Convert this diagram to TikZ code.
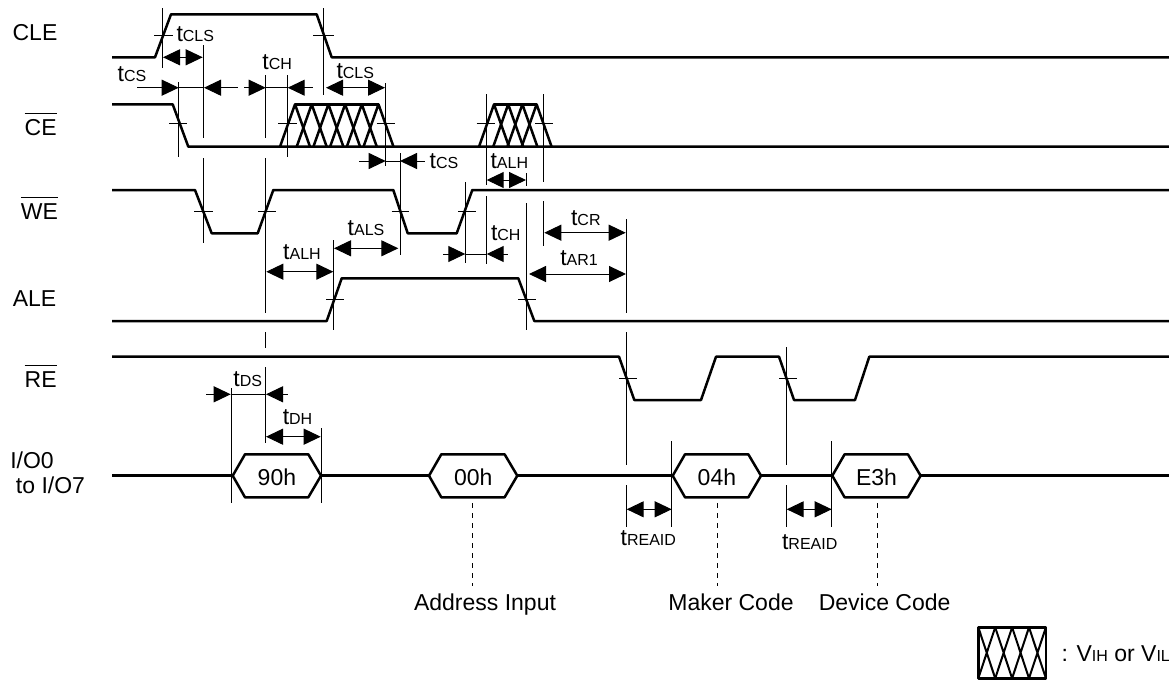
\documentclass[tikz,border=0pt]{standalone}
\usepackage{fontspec}
\setmainfont{Liberation Sans}
\usetikzlibrary{arrows.meta}
\tikzset{
    %Define standard arrow tip
    >={Triangle[length=17pt,width=16pt]},
    x=1pt,y=-1pt,
    % Define signal and guide lines
    sigline/.style={
           line width=2.5pt,
           line join=round},
    hatchline/.style={
           line width=2.5pt,
           line join=round},
    guideline/.style={
           line width=1pt},
    dimline/.style={
           line width=1pt},
    dashline/.style={
           line width=1pt,
           dash pattern=on 5pt off 5pt},
    % Define style for labels
    sigtext/.style={
           inner sep=0pt,
           anchor=base,
           font=\fontsize{23}{27}\selectfont}
}
\newcommand{\tlab}[2]{{\fontsize{23}{27}\selectfont #1}{\fontsize{16}{19}\selectfont #2}}
\newcommand{\sigbar}[1]{\leavevmode\vbox{\hrule height 1pt\kern 5pt\hbox{#1}}}

\begin{document}
\begin{tikzpicture}
\useasboundingbox (0,0) rectangle (1169,681);
% signal names
\node [sigtext] (cle) at (35,40.7) {CLE};
\node [sigtext] (ce) at (40.7,135) {\sigbar{CE}};
\node [sigtext] (we) at (39.5,219.3) {\sigbar{WE}};
\node [sigtext] (ale) at (34.5,306) {ALE};
\node [sigtext] (re) at (40.7,387.3) {\sigbar{RE}};
\node [sigtext] (ioa) at (32,468.3) {I/O0};
\node [sigtext] (iob) at (50.5,493.3) {to I/O7};
% waveforms
\draw [sigline] (112,57.3) -- (155,57.3) -- (171,14.3) -- (316.7,14.3) -- (331.7,57.3) -- (1169,57.3);
\draw [sigline] (112,104.3) -- (172.7,104.3) -- (188.3,146.7) -- (1169,146.7);
\draw [sigline] (112,190) -- (195,190) -- (211.7,233.3) -- (257.7,233.3) -- (273.3,190) -- (393.3,190)
    -- (407.7,233.3) -- (456.7,233.3) -- (472.3,190) -- (1169,190);
\draw [sigline] (112,321) -- (326.7,321) -- (341.7,278.3) -- (518.3,278.3) -- (534.3,321) -- (1169,321);
\draw [sigline] (112,356.7) -- (619,356.7) -- (634.3,400) -- (701,400) -- (716,356.7) -- (779,356.7)
    -- (794,400) -- (855,400) -- (869.3,356.7) -- (1169,356.7);
\draw [sigline] (112,475.7) -- (1169,475.7);
% don't care areas
\draw [hatchline] (295,104.3) -- (378.5,104.3);
\foreach \i in {0,...,5}
    \draw [hatchline] (280+\i*16.7,146.7) -- (295+\i*16.7,104.3) -- (310+\i*16.7,146.7);
\draw [hatchline] (494,104.3) -- (536.6,104.3);
\foreach \i in {0,...,3}
    \draw [hatchline] (479+\i*14.2,146.7) -- (494+\i*14.2,104.3) -- (509+\i*14.2,146.7);
% bus values
\foreach \name/\xa/\val in {vala/232.7/90h,valb/429/00h,valc/672.7/04h,vald/832.3/E3h} {
    \draw [sigline,fill=white] (\xa,475.7) -- ++(12.3,-21.4) -- ++(63.3,0) -- ++(12.7,21.4)
        -- ++(-12.7,21.6) -- ++(-63.3,0) -- cycle;
    \node [sigtext] (\name) at (\xa+44.2,485.7) {\val};
}
% guide lines
\foreach \xa/\ya/\yb in {162.3/8/68,203.7/45/138,203.7/158/243,178.7/82/157,265.7/75/138,
    265.7/158/313,265.7/332/348,265.7/367/443,287.7/75/157,323/8/95,385.7/83/166,400/153/255,
    486/94/185,486/196/264,543.3/94/182,543.3/201/246,526.7/173/186,526.7/203/330,465.3/182/263,
    333.3/240/330,626.7/219/313,626.7/332/465,626.7/485/527,786.7/347/465,786.7/485/527,
    671.7/441/527,831.7/441/527,231/388/503,321/428/503}
    \draw [guideline] (\xa,\ya) -- (\xa,\yb);
% crossing marks
\foreach \xa/\xb/\ya in {154/172.7/35,313/334/35,169/187/123,278/297/123,376.7/395/123,
    476.7/495/123,535/552.7/123,194/212.7/211.7,258/276/211.7,391.7/409/211.7,458/476/211.7,
    326/344.3/299.3,518/536/299.3,619/637/378.7,779/797/378.7}
    \draw [guideline] (\xa,\ya) -- (\xb,\ya);
% timing arrows
\foreach \tip/\xa/\xb/\ya in {<->/163/202.7/57.3,->/137/178.7/87.7,-/178.7/204/87.7,<-/204/238/87.7,
    ->/244/265.7/87.7,-/265.7/287.7/87.7,<-/287.7/312.7/87.7,<->/326/385/87.7,
    ->/359/385.7/161,-/385.7/400/161,<-/400/425/161,<->/486.7/526/180,<->/334/398.3/248.3,
    <->/266.3/333.3/271.7,->/443/465.3/254,-/465.3/486.7/254,<-/486.7/508/254,
    <->/544.3/625.7/232.7,<->/529/626/274,->/206/230.7/394.3,-/230.7/266/394.3,<-/266/287.7/394.3,
    <->/266/320.7/436.7,<->/626.7/671.7/509.3,<->/786.7/831.7/509.3}
    \draw [dimline,\tip] (\xa,\ya) -- (\xb,\ya);
% timing names
\node [sigtext] (tclsa) at (195.3,41.7) {\tlab{t}{CLS}};
\node [sigtext] (tcsa) at (132,81) {\tlab{t}{CS}};
\node [sigtext] (tcha) at (277.2,69) {\tlab{t}{CH}};
\node [sigtext] (tclsb) at (355.3,78.3) {\tlab{t}{CLS}};
\node [sigtext] (tcsb) at (444,168.3) {\tlab{t}{CS}};
\node [sigtext] (talha) at (509.3,168.3) {\tlab{t}{ALH}};
\node [sigtext] (tchb) at (505.8,240) {\tlab{t}{CH}};
\node [sigtext] (tcr) at (585.8,225) {\tlab{t}{CR}};
\node [sigtext] (tar) at (579,265) {\tlab{t}{AR1}};
\node [sigtext] (talhb) at (302,259) {\tlab{t}{ALH}};
\node [sigtext] (tals) at (366,235) {\tlab{t}{ALS}};
\node [sigtext] (tds) at (247.8,386.7) {\tlab{t}{DS}};
\node [sigtext] (tdh) at (297.5,424) {\tlab{t}{DH}};
\node [sigtext] (treaa) at (648.3,545.7) {\tlab{t}{REAID}};
\node [sigtext] (treab) at (809.7,549) {\tlab{t}{REAID}};
% read-out codes
\foreach \xa in {472,717,877}
    \draw [dashline] (\xa,503) -- (\xa,586);
\node [sigtext] (addr) at (485,610) {Address Input};
\node [sigtext] (maker) at (731,610) {Maker Code};
\node [sigtext] (dev) at (884.6,610) {Device Code};
% legend
\draw [sigline] (978.3,627.3) rectangle (1046,678.3);
\foreach \i in {0,...,3}
    \draw [hatchline,line width=2pt] (978.3+\i*16.9,627.3) -- (995.2+\i*16.9,678.3)
        (995.2+\i*16.9,627.3) -- (978.3+\i*16.9,678.3);
\node [sigtext,anchor=base west] (legend) at (1061.5,661.7) {: \tlab{V}{IH} or \tlab{V}{IL}};
\end{tikzpicture}
\end{document}
